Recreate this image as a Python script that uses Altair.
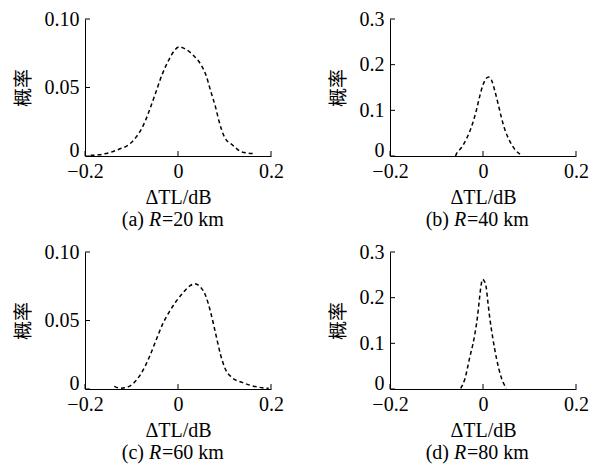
import altair as alt
import pandas as pd

# ---------------- data ----------------
a_x = [-0.188, -0.170, -0.148, -0.127, -0.105, -0.091, -0.077, -0.062, -0.048, -0.034, -0.019, -0.0086,
       0.0022, 0.0165, 0.0344, 0.0488, 0.0595, 0.0703, 0.081, 0.0882, 0.101, 0.116, 0.137, 0.162]
a_y = [0.0005, 0.0009, 0.0024, 0.0049, 0.0085, 0.0134, 0.0207, 0.0328, 0.0462, 0.0596, 0.0706, 0.0766,
       0.0796, 0.0779, 0.073, 0.0669, 0.0596, 0.0474, 0.0353, 0.0255, 0.0132, 0.0084, 0.003, 0.0017]

b_x = [-0.0590, -0.0574, -0.0466, -0.0358, -0.0251, -0.0143, -0.0072, 0.0, 0.0072, 0.0122, 0.0179, 0.0251,
       0.0323, 0.0394, 0.0466, 0.0573, 0.0681, 0.0824]
b_y = [0.0, 0.004, 0.018, 0.037, 0.063, 0.100, 0.130, 0.156, 0.170, 0.173, 0.167, 0.144,
       0.115, 0.085, 0.059, 0.033, 0.015, 0.002]

c_x = [-0.137, -0.123, -0.105, -0.0907, -0.0764, -0.0621, -0.0479, -0.0336, -0.0193, -0.0050, 0.0093,
       0.0236, 0.0357, 0.0486, 0.0593, 0.0700, 0.0807, 0.0914, 0.102, 0.116, 0.138, 0.159, 0.181, 0.195]
c_y = [0.0019, 0.0005, 0.0019, 0.006, 0.013, 0.023, 0.035, 0.047, 0.056, 0.0635, 0.0696,
       0.0748, 0.0768, 0.0743, 0.0683, 0.0563, 0.0408, 0.0252, 0.0144, 0.0084, 0.0048, 0.0024, 0.0009, 0.0005]

d_x = [-0.048, -0.039, -0.029, -0.019, -0.012, -0.008, -0.004, -0.001, 0.003, 0.007, 0.010, 0.014,
       0.021, 0.029, 0.039, 0.050]
d_y = [0.0015, 0.022, 0.067, 0.112, 0.157, 0.194, 0.228, 0.240, 0.236, 0.222, 0.195, 0.160,
       0.112, 0.067, 0.026, 0.0015]

x_ticks = [-0.2, 0.0, 0.2]
y_ticks_small = [0.0, 0.05, 0.10]
y_ticks_big = [0.0, 0.1, 0.2, 0.3]

captions = [("(a)", "R", "=20 km"), ("(b)", "R", "=40 km"),
            ("(c)", "R", "=60 km"), ("(d)", "R", "=80 km")]

x_title = "ΔTL/dB"
y_title = "概率"

# ---------------- styling ----------------
W, H = 186, 137
FONT = "Liberation Serif"
CJK = "Noto Sans CJK SC"
FS = 20


def panel(xs, ys, ymax, yticks, yfmt, cap):
    df = pd.DataFrame({"x": xs, "y": ys})
    xscale = alt.Scale(domain=[-0.2, 0.2], nice=False, zero=False)
    yscale = alt.Scale(domain=[0, ymax], nice=False)
    xaxis = alt.Axis(values=x_ticks, title=x_title,
                     labelExpr="datum.value == 0 ? '0' : format(datum.value, '.1f')",
                     labelPadding=5, titlePadding=6)
    yaxis = alt.Axis(values=yticks, title=y_title,
                     labelExpr=f"datum.value == 0 ? '0' : format(datum.value, '{yfmt}')",
                     labelBaseline={"condition": {"test": "datum.value == 0", "value": "alphabetic"},
                                    "value": "middle"},
                     labelPadding=6, titleFont=CJK, titleFontSize=19, titlePadding=11)
    line = alt.Chart(df).mark_line(
        color="black", strokeDash=[4, 3], strokeWidth=1.5, interpolate="monotone"
    ).encode(
        x=alt.X("x:Q", scale=xscale, axis=xaxis),
        y=alt.Y("y:Q", scale=yscale, axis=yaxis),
    )
    xt = alt.Chart(pd.DataFrame({"x": x_ticks})).mark_rule(color="black", strokeWidth=1).encode(
        x=alt.X("x:Q", scale=xscale),
        y=alt.value(H), y2=alt.value(H - 5),
    )
    yt = alt.Chart(pd.DataFrame({"y": yticks})).mark_rule(color="black", strokeWidth=1).encode(
        y=alt.Y("y:Q", scale=yscale),
        x=alt.value(0), x2=alt.value(5),
    )
    cdf = pd.DataFrame({"a": [cap[0]], "r": [cap[1]], "b": [cap[2]]})
    base = alt.Chart(cdf)
    t1 = base.mark_text(font=FONT, fontSize=FS, align="right", baseline="alphabetic",
                        color="black").encode(text="a:N", x=alt.value(59), y=alt.value(H + 70))
    t2 = base.mark_text(font=FONT, fontSize=FS, fontStyle="italic", align="left",
                        baseline="alphabetic", color="black").encode(
        text="r:N", x=alt.value(64), y=alt.value(H + 70))
    t3 = base.mark_text(font=FONT, fontSize=FS, align="left", baseline="alphabetic",
                        color="black").encode(text="b:N", x=alt.value(77), y=alt.value(H + 70))
    return alt.layer(line, xt, yt, t1, t2, t3).properties(width=W, height=H)


pa = panel(a_x, a_y, 0.10, y_ticks_small, ".2f", captions[0])
pb = panel(b_x, b_y, 0.3, y_ticks_big, ".1f", captions[1])
pc = panel(c_x, c_y, 0.10, y_ticks_small, ".2f", captions[2])
pd_ = panel(d_x, d_y, 0.3, y_ticks_big, ".1f", captions[3])

chart = alt.vconcat(
    alt.hconcat(pa, pb, spacing=45),
    alt.hconcat(pc, pd_, spacing=45),
    spacing=12,
).properties(
    padding={"left": 14, "top": 9, "right": 5, "bottom": 5},
    background="white",
).configure_view(stroke=None).configure_axis(
    grid=False, tickSize=0, labelFlush=False,
    labelFont=FONT, labelFontSize=FS, labelColor="black",
    titleFont=FONT, titleFontSize=FS, titleFontWeight="normal", titleColor="black",
    domainColor="black", domainWidth=1,
).configure_text(font=FONT)

chart.save("out.html", embed_options={"renderer": "svg", "actions": False})
